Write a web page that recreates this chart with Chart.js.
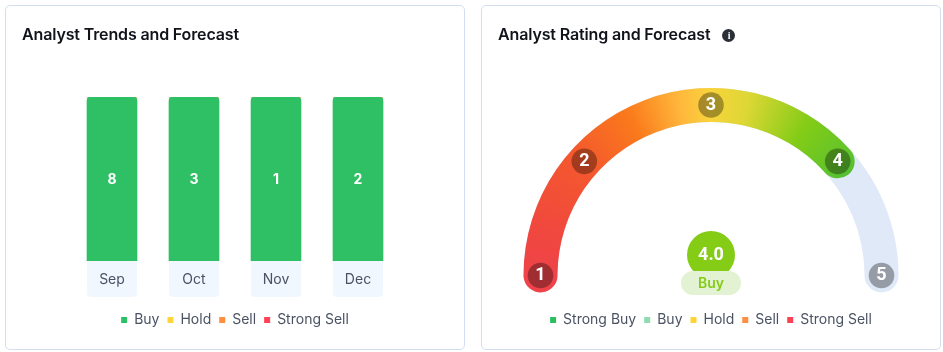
<!DOCTYPE html>
<html><head><meta charset="utf-8">
<style>
html,body{margin:0;padding:0;background:#fff;width:943px;height:352px;overflow:hidden;font-family:Inter,sans-serif}
.card{position:absolute;top:5px;width:458px;height:343px;border:1px solid #D3DFF0;border-radius:5px;background:#fff}
.card canvas{position:absolute;left:0;top:0}
.title{position:absolute;left:16px;top:18px;font:600 16px/20px Inter,sans-serif;letter-spacing:-.14px;color:#10131A;white-space:nowrap;z-index:2}
.info{display:inline-block;width:13px;height:13px;border-radius:50%;background:#2B2F36;color:#fff;font:700 10px/13px "Liberation Serif",serif;text-align:center;margin-left:12px;vertical-align:1px}
</style></head><body>
<div class="card" style="left:5px"><div class="title">Analyst Trends and Forecast</div><div style="position:absolute;left:0;top:0;width:458px;height:343px"><canvas id="trend"></canvas></div></div>
<div class="card" style="left:481px"><div class="title">Analyst Rating and Forecast<span class="info">i</span></div><div style="position:absolute;left:0;top:0;width:458px;height:343px"><canvas id="gauge"></canvas></div></div>
<script src="https://cdn.jsdelivr.net/npm/chart.js@4"></script>
<script>
const months = ['Sep','Oct','Nov','Dec'];
const buyCounts = [8,3,1,2];
const holdCounts = [0,0,0,0];
const sellCounts = [0,0,0,0];
const strongSellCounts = [0,0,0,0];
const ratingMarks = [1,2,3,4,5];
const markDegrees = [0,42,90,138,180];
const ratingScore = '4.0';
const ratingLabel = 'Buy';
const gaugeTrack = [191.4];
const gaugeFill = [149.4,42];
const gaugeLegend = ['Strong Buy','Buy','Hold','Sell','Strong Sell'];
const gaugeLegendColors = ['#2EBE62','#8FDCB0','#FFD43B','#FF8F3F','#FF4155'];

const FONT='Inter, sans-serif', TEXT='#4A5263';
const totals = months.map((_,i)=>buyCounts[i]+holdCounts[i]+sellCounts[i]+strongSellCounts[i]);
const share = a => a.map((v,i)=>totals[i]?v/totals[i]*100:0);
const legendOpts = {position:'bottom',labels:{boxWidth:6,boxHeight:6,padding:8,color:TEXT,font:{family:FONT,size:14}}};

const rr = (ctx,x,y,w,h,r)=>{ctx.beginPath();ctx.roundRect(x,y,w,h,r);};

const trendDecor = {id:'trendDecor',
  beforeDraw(c){const {ctx,scales:{x},chartArea:a}=c;ctx.save();ctx.fillStyle='#F0F7FF';
    months.forEach((m,i)=>{const p=x.getPixelForValue(i);rr(ctx,p-25,a.bottom,50,36,[0,0,4,4]);ctx.fill();});ctx.restore();},
  afterDatasetsDraw(c){const {ctx}=c;ctx.save();ctx.font='700 14px '+FONT;ctx.fillStyle='#fff';ctx.textAlign='center';ctx.textBaseline='middle';
    c.data.datasets.forEach((d,di)=>{c.getDatasetMeta(di).data.forEach((b,i)=>{const v=d.counts[i];if(v>0){ctx.fillText(String(v),b.x,(b.y+b.base)/2+1);}});});ctx.restore();}
};
const mk=(label,counts,color,r)=>({label,counts,data:share(counts),backgroundColor:color,borderWidth:0,barThickness:50,stack:'s',borderSkipped:false,borderRadius:r?{topLeft:4,topRight:4}:0});
new Chart(document.getElementById('trend'),{type:'bar',
  data:{labels:months,datasets:[mk('Buy',buyCounts,'#2FBF64',true),mk('Hold',holdCounts,'#FFD43B'),mk('Sell',sellCounts,'#FF8F3F'),mk('Strong Sell',strongSellCounts,'#FF4155')]},
  options:{responsive:true,maintainAspectRatio:false,animation:false,
    layout:{padding:{left:65,right:65,top:91,bottom:12}},
    plugins:{legend:legendOpts,tooltip:{enabled:false}},
    scales:{
      x:{stacked:true,grid:{display:false,drawTicks:false},border:{display:false},ticks:{padding:10,color:TEXT,font:{family:FONT,size:14},maxRotation:0},afterFit(s){s.height=44;}},
      y:{stacked:true,display:false,min:0,max:100}
    }},plugins:[trendDecor]});

const OUTER=187.5, INNER=153.5;
const gaugeStops=[[0,'#EF4349'],[14,'#F0473F'],[42,'#F4592D'],[63,'#FA7A1B'],[80,'#FFB83C'],[90,'#F8D43C'],[102,'#DDD735'],[122,'#84CC16'],[145,'#52BF34'],[180,'#52BF34'],[350,'#EF4349']];
const gaugeDecor = {id:'gaugeDecor',
  afterDatasetsUpdate(c){
    c.data.datasets.forEach((d,i)=>c.getDatasetMeta(i).data.forEach(el=>{el.outerRadius=OUTER;el.innerRadius=INNER;}));
    const el=c.getDatasetMeta(0).data[0];
    const g=c.ctx.createConicGradient(Math.PI,el.x,el.y);
    gaugeStops.forEach(([d,col])=>g.addColorStop(d/360,col));
    el.options.backgroundColor=g;
  },
  afterDatasetsDraw(c){const {ctx}=c;const el=c.getDatasetMeta(0).data[0];const cx=el.x,cy=el.y,mid=(OUTER+INNER)/2;
    ctx.save();ctx.textAlign='center';ctx.textBaseline='middle';
    ratingMarks.forEach((m,i)=>{const t=Math.PI+markDegrees[i]*Math.PI/180;const x=cx+Math.cos(t)*mid,y=cy+Math.sin(t)*mid;
      ctx.beginPath();ctx.arc(x,y,12.8,0,Math.PI*2);ctx.fillStyle='rgba(0,0,0,0.33)';ctx.fill();
      ctx.fillStyle='#fff';ctx.font='700 18px Roboto, sans-serif';ctx.fillText(String(m),x,y+0.5);});
    ctx.beginPath();ctx.arc(cx,cy-20.5,24,0,Math.PI*2);ctx.fillStyle='#84CC16';ctx.fill();
    ctx.fillStyle='#fff';ctx.font='700 18px Roboto, sans-serif';ctx.fillText(ratingScore,cx,cy-20);
    rr(ctx,cx-30,cy-4.5,60,24,12);ctx.fillStyle='#E2F2D3';ctx.fill();
    ctx.fillStyle='#84CC16';ctx.font='600 14px '+FONT;ctx.fillText(ratingLabel,cx,cy+8);
    ctx.restore();}
};
const fillColor = c => c.dataIndex===0 ? '#84CC16' : 'rgba(0,0,0,0)';
new Chart(document.getElementById('gauge'),{type:'doughnut',
  data:{labels:['Rated','Remaining'],datasets:[
    {data:gaugeFill,backgroundColor:fillColor,borderWidth:0,borderRadius:17,radius:OUTER},
    {data:gaugeTrack,backgroundColor:'#E0E9F8',borderWidth:0,borderRadius:17,radius:OUTER}]},
  options:{responsive:true,maintainAspectRatio:false,animation:false,rotation:-95.7,circumference:191.4,cutout:'82%',
    layout:{padding:{left:5,right:5,top:71,bottom:12}},
    plugins:{tooltip:{enabled:false},legend:{...legendOpts,labels:{...legendOpts.labels,
      generateLabels:()=>gaugeLegend.map((t,i)=>({text:t,fillStyle:gaugeLegendColors[i],strokeStyle:gaugeLegendColors[i],lineWidth:0,fontColor:TEXT,hidden:false}))}}}
  },plugins:[gaugeDecor]});
</script>
</body></html>
